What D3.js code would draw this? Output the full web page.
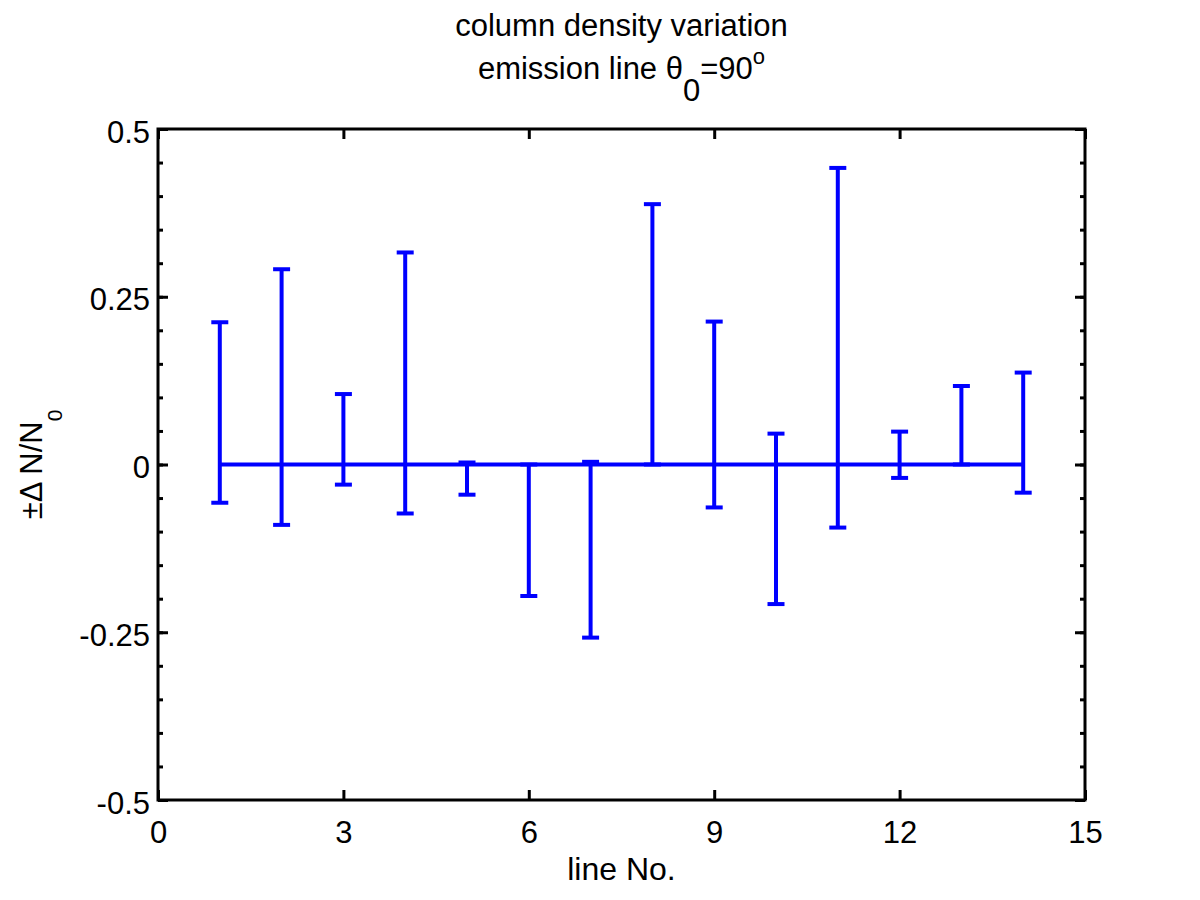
<!DOCTYPE html>
<html>
<head>
<meta charset="utf-8">
<script src="https://cdn.jsdelivr.net/npm/d3@7"></script>
<style>
  body { margin: 0; background: #fff; }
  text { font-family: "Liberation Sans", Arial, sans-serif; fill: #000; }
</style>
</head>
<body>
<svg id="chart"></svg>
<script>
// data
const lineNo = [1, 2, 3, 4, 5, 6, 7, 8, 9, 10, 11, 12, 13, 14];
const center = [0, 0, 0, 0, 0, 0, 0, 0, 0, 0, 0, 0, 0, 0];
const upper = [0.212, 0.291, 0.105, 0.316, 0.003, 0.000, 0.004, 0.388, 0.213, 0.046, 0.442, 0.049, 0.117, 0.137];
const lower = [-0.057, -0.090, -0.030, -0.073, -0.045, -0.196, -0.258, 0.000, -0.064, -0.208, -0.094, -0.020, 0.000, -0.042];

const xTicks = [0, 3, 6, 9, 12, 15];
const yTicks = [-0.5, -0.25, 0, 0.25, 0.5];
const yTickLabels = ["-0.5", "-0.25", "0", "0.25", "0.5"];
const yMinor = d3.range(-10, 11).map(i => i * 0.05);

const width = 1200, height = 900;
const margin = {top: 129, right: 115, bottom: 100, left: 158};
const plotW = width - margin.left - margin.right;
const plotH = height - margin.top - margin.bottom;

const svg = d3.select('#chart')
    .attr('width', width)
    .attr('height', height);

const x = d3.scaleLinear().domain([0, 15]).range([0, plotW]);
const y = d3.scaleLinear().domain([-0.5, 0.5]).range([plotH, 0]);

const g = svg.append('g')
    .attr('transform', `translate(${margin.left},${margin.top})`);

// styling helper for the IDL-like frame and ticks
function styleAxis(sel) {
    sel.select('.domain').remove();
    sel.selectAll('.tick line').attr('stroke', '#000').attr('stroke-width', 3);
    sel.selectAll('text').attr('font-size', 31).attr('fill', '#000');
}

// bottom axis with labels
g.append('g')
    .attr('transform', `translate(0,${plotH})`)
    .call(d3.axisBottom(x).tickValues(xTicks).tickSize(-10).tickPadding(21).tickFormat(d3.format('d')))
    .call(styleAxis);

// top axis, ticks only
g.append('g')
    .call(d3.axisTop(x).tickValues(xTicks).tickSize(-10).tickFormat(''))
    .call(styleAxis);

// left axis: minor then major
g.append('g')
    .call(d3.axisLeft(y).tickValues(yMinor).tickSize(-5).tickFormat(''))
    .call(styleAxis);
g.append('g')
    .call(d3.axisLeft(y).tickValues(yTicks).tickSize(-10).tickPadding(8)
        .tickFormat((d, i) => yTickLabels[i]))
    .call(styleAxis)
    .selectAll('text').attr('dy', '0.42em');

// right axis, ticks only
g.append('g')
    .attr('transform', `translate(${plotW},0)`)
    .call(d3.axisRight(y).tickValues(yMinor).tickSize(-5).tickFormat(''))
    .call(styleAxis);
g.append('g')
    .attr('transform', `translate(${plotW},0)`)
    .call(d3.axisRight(y).tickValues(yTicks).tickSize(-10).tickFormat(''))
    .call(styleAxis);

// frame
g.append('rect')
    .attr('width', plotW)
    .attr('height', plotH)
    .attr('fill', 'none')
    .attr('stroke', '#000')
    .attr('stroke-width', 3);

// error bars
const blue = '#0000ff';
const capHalf = 8.5;
const bars = g.append('g').attr('stroke', blue).attr('stroke-width', 4).attr('fill', 'none');

bars.selectAll('.err')
    .data(lineNo)
    .join('line')
    .attr('x1', d => x(d))
    .attr('x2', d => x(d))
    .attr('y1', (d, i) => y(upper[i]))
    .attr('y2', (d, i) => y(lower[i]));

bars.selectAll('.capTop')
    .data(lineNo)
    .join('line')
    .attr('x1', d => x(d) - capHalf)
    .attr('x2', d => x(d) + capHalf)
    .attr('y1', (d, i) => y(upper[i]))
    .attr('y2', (d, i) => y(upper[i]));

bars.selectAll('.capBot')
    .data(lineNo)
    .join('line')
    .attr('x1', d => x(d) - capHalf)
    .attr('x2', d => x(d) + capHalf)
    .attr('y1', (d, i) => y(lower[i]))
    .attr('y2', (d, i) => y(lower[i]));

// the central values
const line = d3.line()
    .x(d => x(d))
    .y((d, i) => y(center[i]));

g.append('path')
    .datum(lineNo)
    .attr('d', line)
    .attr('fill', 'none')
    .attr('stroke', blue)
    .attr('stroke-width', 4);

// titles
const cx = margin.left + plotW / 2;

svg.append('text')
    .attr('x', cx).attr('y', 36)
    .attr('text-anchor', 'middle')
    .attr('font-size', 31)
    .text('column density variation');

const t2 = svg.append('text')
    .attr('x', cx).attr('y', 79)
    .attr('text-anchor', 'middle')
    .attr('font-size', 31);
t2.append('tspan').text('emission line θ');
t2.append('tspan').attr('dy', 22).text('0');
t2.append('tspan').attr('dy', -22).text('=90');
t2.append('tspan').attr('dy', -15).attr('font-size', 22).text('o');

// x label
svg.append('text')
    .attr('x', cx).attr('y', 880)
    .attr('text-anchor', 'middle')
    .attr('font-size', 32)
    .text('line No.');

// y label
const yl = svg.append('text')
    .attr('transform', `translate(42,${margin.top + plotH / 2}) rotate(-90)`)
    .attr('text-anchor', 'middle')
    .attr('font-size', 31);
yl.append('tspan').text('±Δ N/N');
yl.append('tspan').attr('dy', 20).attr('font-size', 21).text('0');
</script>
</body>
</html>
